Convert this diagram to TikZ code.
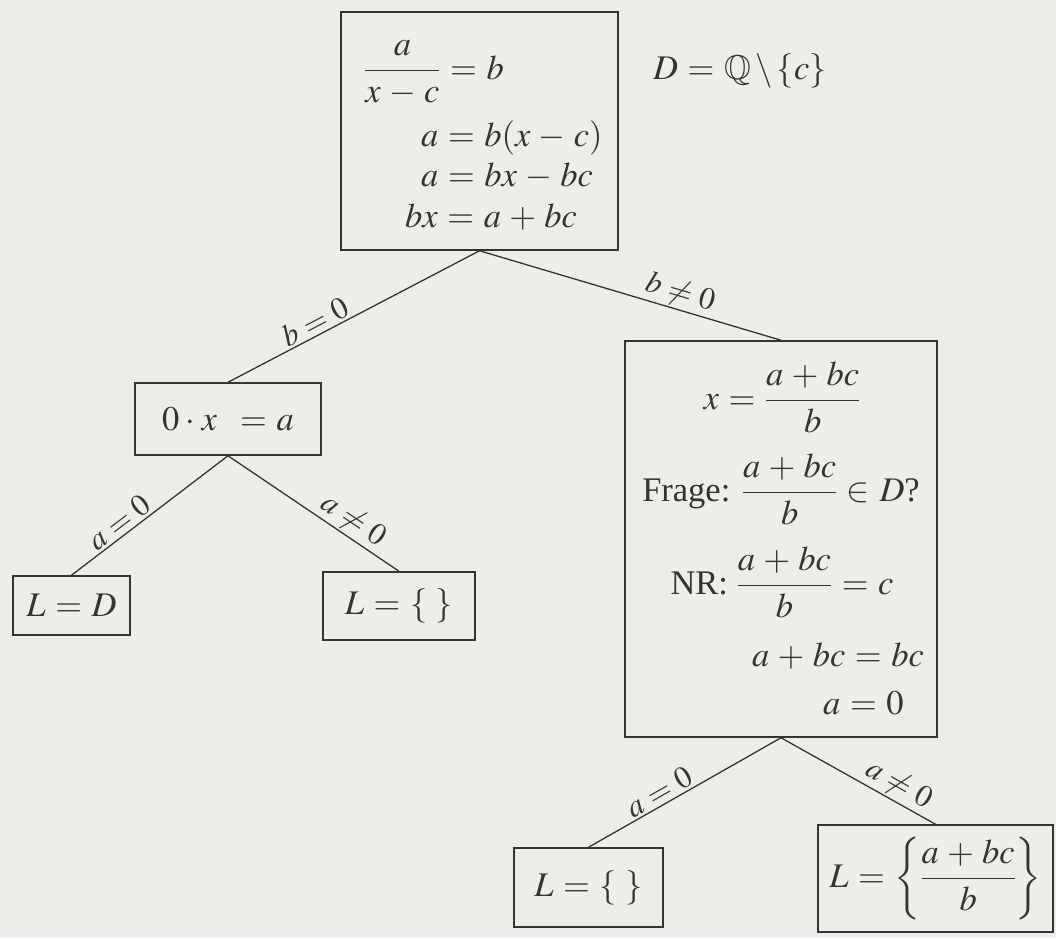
\documentclass[tikz,border=0pt]{standalone}
\usepackage{amsmath}
\usepackage{mathptmx}
\usepackage{amssymb}
\usepackage{fontspec}
\setmainfont{Liberation Serif}
\definecolor{paper}{RGB}{239,237,232}
\definecolor{ink}{RGB}{52,52,52}
\newcommand{\mainsize}{\fontsize{34.5}{40}\selectfont\medmuskip=4.3mu\thickmuskip=5mu}
\newcommand{\lblsize}{\fontsize{31}{34}\selectfont\thickmuskip=4.5mu}
\tikzset{
  box/.style={draw=ink, line width=1.5pt, inner sep=0pt, text=ink, font=\mainsize},
  txt/.style={inner sep=0pt, text=ink, font=\mainsize},
  edge/.style={draw=ink, line width=1.3pt},
  lbl/.style={sloped, above, inner sep=2pt, text=ink, font=\lblsize},
}
\begin{document}
\begin{tikzpicture}[x=1pt,y=-1pt]
\fill[paper] (0,0) rectangle (1056,938);
\useasboundingbox (0,0) rectangle (1056,938);

% root
\node[box, minimum width=277pt, minimum height=238pt] (root) at (479.5,131) {};
\node[txt, anchor=base west] (r1) at (364,79) {$\dfrac{a}{x-c}=b$};
\node[txt, anchor=base west] (r2) at (421,146) {$a=b(x-c)$};
\node[txt, anchor=base west] (r3) at (421,186) {$a=bx-bc$};
\node[txt, anchor=base west] (r4) at (405,227) {$bx=a+bc$};
\node[txt, anchor=base west] (dom) at (653,79) {$D=\mathbb{Q}\mskip-2mu\setminus\mskip-2mu\{c\}$};

% left branch
\node[box, minimum width=186pt, minimum height=72pt] (n0) at (228,419) {$0\mskip-1mu\cdot\mskip-1mu x\;\,=a$};
\node[box, minimum width=117pt, minimum height=59pt] (lD) at (71.5,605.5) {$L=D$};
\node[box, minimum width=152pt, minimum height=68pt] (lE) at (399,606) {$L=\{\ \}$};

% right branch
\node[box, minimum width=312pt, minimum height=396pt] (big) at (781,539) {};
\node[txt, anchor=base] (b1) at (782,409) {$x=\dfrac{a+bc}{b}$};
\node[txt, anchor=base] (b2) at (781,501) {Frage: $\dfrac{a+bc}{b}\in D$?};
\node[txt, anchor=base] (b3) at (782,594) {NR: $\dfrac{a+bc}{b}=c$};
\node[txt, anchor=base west] (b4) at (752,666) {$a+bc=bc$};
\node[txt, anchor=base west] (b5) at (823,714) {$a=0$};

\node[box, minimum width=149pt, minimum height=79pt] (lE2) at (588.5,887.5) {$L=\{\ \}$};
\node[box, minimum width=235pt, minimum height=107pt] (lS) at (935.5,878.5) {$L=\left\{\dfrac{a+bc}{b}\right\}$};

% edges
\draw[edge] (root.south) -- node[lbl, pos=0.63] {$b=0$} (n0.north);
\draw[edge] (root.south) -- node[lbl, pos=0.65] {$b\neq0$} (big.north);
\draw[edge] (n0.south) -- node[lbl, pos=0.645] {$a=0$} (lD.north);
\draw[edge] (n0.south) -- node[lbl, pos=0.68] {$a\neq0$} (lE.north);
\draw[edge] (big.south) -- node[lbl, pos=0.6] {$a=0$} (lE2.north);
\draw[edge] (big.south) -- node[lbl, pos=0.71] {$a\neq0$} (lS.north);
\end{tikzpicture}
\end{document}
